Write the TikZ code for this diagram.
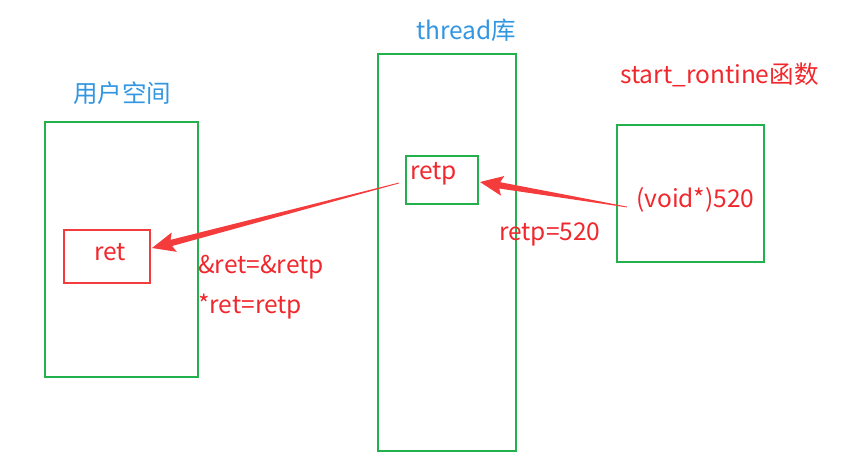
\documentclass[tikz,border=0pt]{standalone}
\usepackage{fontspec}
\setmainfont{Noto Sans CJK SC}
\usetikzlibrary{calc}
\definecolor{gbox}{RGB}{34,177,76}
\definecolor{rtext}{RGB}{240,40,45}
\definecolor{rarrow}{RGB}{245,60,60}
\definecolor{btext}{RGB}{50,150,225}
\tikzset{
  gframe/.style={draw=gbox, line width=2.8pt, fill=none},
  rframe/.style={draw=rarrow, line width=2.2pt, fill=none},
  lbl/.style={font=\fontsize{24.5pt}{28pt}\selectfont, inner sep=0pt},
}
\newcommand{\taperarrow}[2]{%
  \fill[rarrow]
    ($(#1)!0.4pt!90:(#2)$) --
    ($($(#2)!20pt!(#1)$)!3.2pt!-90:(#1)$) --
    ($($(#2)!23pt!(#1)$)!10pt!-90:(#1)$) --
    (#2) --
    ($($(#2)!23pt!(#1)$)!10pt!90:(#1)$) --
    ($($(#2)!20pt!(#1)$)!3.2pt!90:(#1)$) --
    ($(#1)!0.4pt!-90:(#2)$) -- cycle;}
\begin{document}
\begin{tikzpicture}[x=1pt,y=-1pt]
\useasboundingbox (0,0) rectangle (850,468);
% boxes
\draw[gframe] (45,122) rectangle (198,377);
\draw[gframe] (378,54) rectangle (516,451);
\draw[gframe] (617,125) rectangle (764,262);
\draw[gframe] (406,156) rectangle (478,204);
\draw[rframe] (64,230) rectangle (150,283);
% labels
\node[lbl, text=btext] (user) at (122,93) {用户空间};
\node[lbl, text=btext] (thr) at (466,30) {thread库};
\node[lbl, text=rtext, anchor=west] (srt) at (620,75) {start\_rontine函数};
\node[lbl, text=rtext] (ret) at (110,252) {ret};
\node[lbl, text=rtext, anchor=west] (retp) at (410,174) {retp};
\node[lbl, text=rtext, anchor=west] (void) at (636,200) {(void*)520};
\node[lbl, text=rtext, anchor=west] (eq1) at (499,234) {retp=520};
\node[lbl, text=rtext, anchor=west] (eq2) at (198,267) {\&ret=\&retp};
\node[lbl, text=rtext, anchor=west] (eq3) at (198,307) {*ret=retp};
% arrows
\coordinate (a1s) at (399,183);
\coordinate (a1t) at (152,248);
\coordinate (a2s) at (627,207);
\coordinate (a2t) at (480,182);
\taperarrow{a1s}{a1t}
\taperarrow{a2s}{a2t}
\end{tikzpicture}
\end{document}
